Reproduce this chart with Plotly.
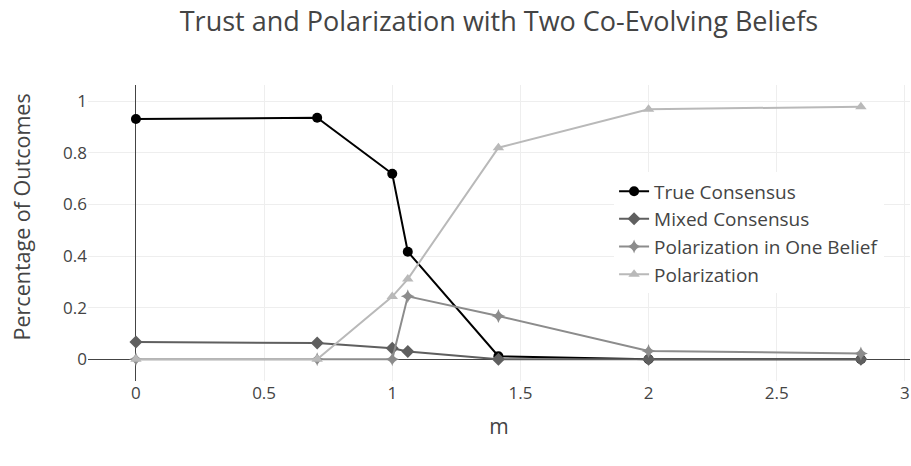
import plotly.graph_objects as go
import math

m_values = [0, math.sqrt(0.5), 1, math.sqrt(1.125), math.sqrt(2), 2, math.sqrt(8)]
true_consensus = [0.931, 0.936, 0.719, 0.417, 0.012, 0.0, 0.0]
mixed_consensus = [0.067, 0.063, 0.043, 0.030, 0.0, 0.0, 0.0]
polarization_one = [0.0, 0.0, 0.0, 0.244, 0.168, 0.032, 0.023]
polarization = [0.0, 0.0, 0.243, 0.311, 0.820, 0.969, 0.979]

series = [
    ("True Consensus", true_consensus, "#000000", "circle"),
    ("Mixed Consensus", mixed_consensus, "#5f5f5f", "diamond"),
    ("Polarization in One Belief", polarization_one, "#8c8c8c", "star-diamond"),
    ("Polarization", polarization, "#b9b9b9", "triangle-up"),
]

fig = go.Figure()
for name, vals, color, sym in series:
    fig.add_trace(go.Scatter(
        x=m_values, y=vals, name=name, mode="lines+markers",
        line=dict(color=color, width=2),
        marker=dict(color=color, symbol=sym, size=10),
    ))

fig.update_layout(
    width=911, height=466,
    template="none",
    paper_bgcolor="white", plot_bgcolor="white",
    font=dict(family="Open Sans", color="#444", size=17),
    title=dict(text="Trust and Polarization with Two Co-Evolving Beliefs",
               x=0.5, xref="paper", xanchor="center", y=0.953, yanchor="middle",
               font=dict(size=27, color="#444")),
    margin=dict(l=88, r=1, t=85, b=85, autoexpand=False),
    showlegend=True,
    legend=dict(x=0.64, y=0.705, xanchor="left", yanchor="top",
                bgcolor="white", font=dict(size=19, color="#444"),
                tracegroupgap=0),
    xaxis=dict(title=dict(text="m", font=dict(size=21), standoff=16),
               automargin=False,
               range=[-0.187, 3.02], tickvals=[0, 0.5, 1, 1.5, 2, 2.5, 3],
               ticktext=["0", "0.5", "1", "1.5", "2", "2.5", "3"],
               showgrid=True, gridcolor="#eeeeee", zeroline=True,
               zerolinecolor="#444", zerolinewidth=1, showline=False,
               ticks="", tickfont=dict(size=17)),
    yaxis=dict(automargin=False,
               range=[-0.084, 1.063], tickvals=[0, 0.2, 0.4, 0.6, 0.8, 1],
               ticktext=["0", "0.2", "0.4", "0.6", "0.8", "1"],
               showgrid=True, gridcolor="#eeeeee", zeroline=True,
               zerolinecolor="#444", zerolinewidth=1, showline=False,
               ticks="", tickfont=dict(size=17)),
    annotations=[dict(text="Percentage of Outcomes", textangle=-90,
                      xref="paper", yref="paper", x=-0.081, y=0.554,
                      xanchor="center", yanchor="middle", showarrow=False,
                      font=dict(size=21.5, color="#444"))],
)

fig.write_html("out.html", config={"displayModeBar": False},
               post_script="document.body.style.margin='0';")
